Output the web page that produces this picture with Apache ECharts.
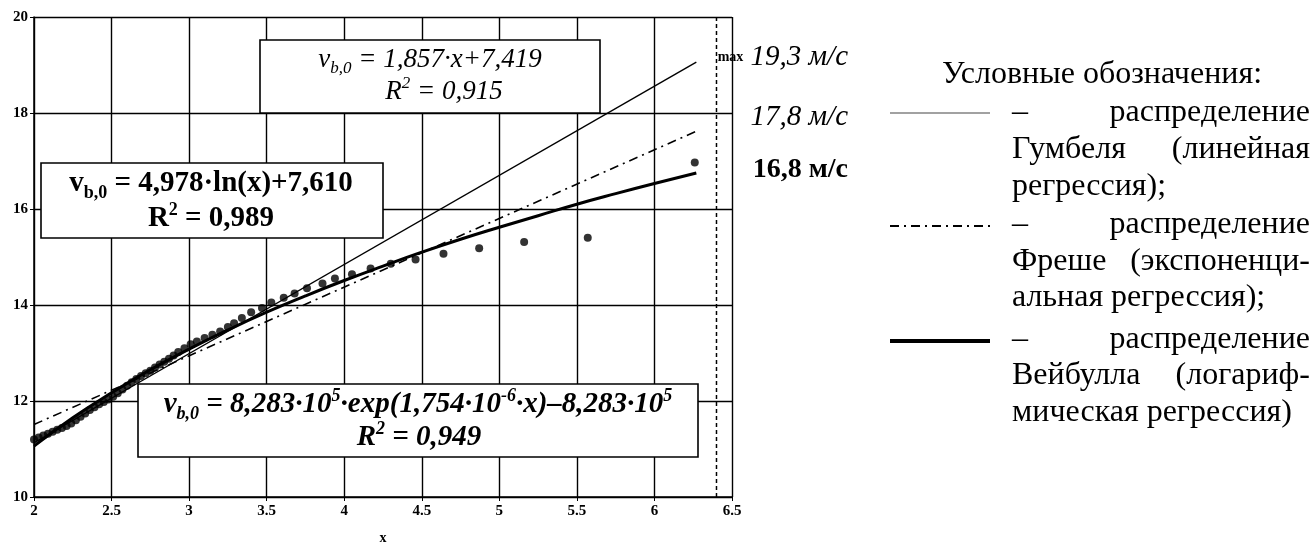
<!DOCTYPE html>
<html><head><meta charset="utf-8">
<script src="https://cdn.jsdelivr.net/npm/echarts@6/dist/echarts.min.js"></script>
<style>html,body{margin:0;padding:0;background:#fff}#c{width:1316px;height:543px}</style>
</head><body><div id="c"></div>
<script>
// ---- data ----
const xTicks = [2, 2.5, 3, 3.5, 4, 4.5, 5, 5.5, 6, 6.5];
const yTicks = [10, 12, 14, 16, 18, 20];
// observed points
const obsX = [2.00,2.03,2.06,2.09,2.12,2.15,2.18,2.21,2.24,2.27,2.30,2.33,2.36,2.39,2.42,2.45,2.48,2.51,2.54,2.57,2.60,2.63,2.66,2.69,2.72,2.75,2.78,2.81,2.84,2.87,2.90,2.93,2.97,3.01,3.05,3.10,3.15,3.20,3.25,3.29,3.34,3.40,3.47,3.53,3.61,3.68,3.76,3.86,3.94,4.05,4.17,4.30,4.46,4.64,4.87,5.16,5.57,6.26];
const obsY = [11.20,11.24,11.28,11.32,11.36,11.40,11.44,11.48,11.53,11.60,11.67,11.74,11.81,11.87,11.93,11.98,12.03,12.09,12.16,12.24,12.32,12.39,12.46,12.52,12.58,12.63,12.70,12.76,12.82,12.88,12.95,13.02,13.10,13.18,13.24,13.31,13.38,13.45,13.54,13.62,13.73,13.85,13.94,14.05,14.15,14.24,14.35,14.45,14.55,14.64,14.76,14.86,14.95,15.07,15.18,15.31,15.40,16.97];
// Gumbel (linear regression)
const gumbelX = [2, 6.27];
const gumbelY = [11.13, 19.06];
// Frechet (exponential regression)
const frechetX = [2, 6.27];
const frechetY = [11.51, 17.62];
// Weibull (logarithmic regression)
const weibullX = [2,2.25,2.5,2.75,3,3.25,3.5,3.75,4,4.25,4.5,4.75,5,5.25,5.5,5.75,6,6.27];
const weibullY = [11.06,11.65,12.17,12.65,13.08,13.48,13.85,14.19,14.51,14.81,15.10,15.37,15.62,15.86,16.10,16.32,16.53,16.75];
// max forecast line
const maxLineX = [6.4, 6.4];
const maxLineY = [10, 20];

const zip = (a, b) => a.map((v, i) => [v, b[i]]);
const SERIF = "'Liberation Serif','DejaVu Serif',serif";

function tok(size, weight, style, extra) {
  return Object.assign({fontFamily: SERIF, fontSize: size, fontWeight: weight, fontStyle: style,
    fill: '#000', color: '#000'}, extra || {});
}
function richSet(size, weight, style) {
  const lh = Math.round(size * 1.25);
  const small = Math.round(size * 0.62);
  return {
    n: tok(size, weight, style, {lineHeight: lh}),
    s: tok(small, weight, style, {lineHeight: small, verticalAlign: 'bottom'}),
    p: tok(small, weight, style, {lineHeight: small, verticalAlign: 'top'})
  };
}
function txt(x, y, text, rich, align, z) {
  return {type: 'text', x: x, y: y, z: z || 110,
    style: {text: text, rich: rich, align: align || 'center', verticalAlign: 'middle',
      textAlign: align || 'center', textVerticalAlign: 'middle', fill: '#000'}};
}
function box(x, y, w, h) {
  return {type: 'rect', z: 100, shape: {x: x, y: y, width: w, height: h},
    style: {fill: '#fff', stroke: '#000', lineWidth: 1.6}};
}
const LF = 32;
function plain(x, y, text, align) {
  return {type: 'text', x: x, y: y, z: 110,
    style: {text: text, font: 'normal normal ' + LF + 'px ' + SERIF,
      fill: '#000', align: align, verticalAlign: 'middle', textAlign: align, textVerticalAlign: 'middle'}};
}
function hline(x1, x2, y, w, dash, color) {
  return {type: 'line', z: 110, shape: {x1: x1, y1: y, x2: x2, y2: y},
    style: {stroke: color || '#000', lineWidth: w, lineDash: dash || null}};
}

const itR = richSet(27, 'normal', 'italic');
const bdR = richSet(29, 'bold', 'normal');
const biR = richSet(29, 'bold', 'italic');
const lblR = {
  m: tok(14, 'bold', 'normal'),
  i: tok(29, 'normal', 'italic'),
  b: tok(28, 'bold', 'normal')
};

const graphics = [
  box(260, 40, 340, 73),
  txt(430, 60, '{n|v}{s|b,0}{n| = 1,857·x+7,419}', itR),
  txt(444, 92, '{n|R}{p|2}{n| = 0,915}', itR),
  box(41, 163, 342, 75),
  txt(211, 184, '{n|v}{s|b,0}{n| = 4,978·ln(x)+7,610}', bdR),
  txt(211, 219, '{n|R}{p|2}{n| = 0,989}', bdR),
  box(138, 384, 560, 73),
  txt(418, 405, '{n|v}{s|b,0}{n| = 8,283·10}{p|5}{n|·exp(1,754·10}{p|-6}{n|·x)–8,283·10}{p|5}', biR),
  txt(419, 438, '{n|R}{p|2}{n| = 0,949}', biR),
  txt(848, 57, '{m|max}{i| 19,3 м/с}', lblR, 'right'),
  txt(848, 117, '{i|17,8 м/с}', lblR, 'right'),
  txt(848, 170, '{b|16,8 м/с}', lblR, 'right'),
  // legend
  plain(1102, 75, 'Условные обозначения:', 'center'),
  hline(890, 990, 113, 1.2, null, '#444'),
  hline(890, 990, 226, 2, [9, 5, 2, 5]),
  hline(890, 990, 341, 4),
  plain(1012, 113, '–', 'left'), plain(1310, 113, 'распределение', 'right'),
  plain(1012, 150, 'Гумбеля', 'left'), plain(1310, 150, '(линейная', 'right'),
  plain(1012, 187, 'регрессия);', 'left'),
  plain(1012, 225, '–', 'left'), plain(1310, 225, 'распределение', 'right'),
  plain(1012, 262, 'Фреше', 'left'), plain(1310, 262, '(экспоненци-', 'right'),
  plain(1012, 298, 'альная регрессия);', 'left'),
  plain(1012, 340, '–', 'left'), plain(1310, 340, 'распределение', 'right'),
  plain(1012, 376, 'Вейбулла', 'left'), plain(1310, 376, '(логариф-', 'right'),
  plain(1012, 413, 'мическая регрессия)', 'left')
];

const axisLabel = {color: '#000', fontFamily: SERIF, fontWeight: 'bold', fontSize: 15};
const chart = echarts.init(document.getElementById('c'), null, {renderer: 'canvas'});
chart.setOption({
  animation: false,
  backgroundColor: '#fff',
  grid: {left: 34, right: 584, top: 17, bottom: 46, containLabel: false, outerBoundsMode: 'none'},
  xAxis: {
    type: 'value', min: xTicks[0], max: xTicks[xTicks.length - 1], interval: 0.5,
    name: 'x', nameLocation: 'middle', nameGap: 34,
    nameTextStyle: {color: '#000', fontFamily: SERIF, fontWeight: 'bold', fontSize: 14},
    axisLine: {lineStyle: {color: '#000', width: 1.5}},
    axisTick: {show: true, length: 4, lineStyle: {color: '#000'}},
    axisLabel: Object.assign({margin: 7}, axisLabel),
    splitLine: {show: true, lineStyle: {color: '#000', width: 1.4}}
  },
  yAxis: {
    type: 'value', min: yTicks[0], max: yTicks[yTicks.length - 1], interval: 2,
    axisLine: {show: true, lineStyle: {color: '#000', width: 1.5}},
    axisTick: {show: true, length: 4, lineStyle: {color: '#000'}},
    axisLabel: Object.assign({margin: 6}, axisLabel),
    splitLine: {show: true, lineStyle: {color: '#000', width: 1.4}}
  },
  series: [
    {type: 'line', data: zip(maxLineX, maxLineY), symbol: 'none', z: 3,
      lineStyle: {color: '#000', width: 1.5, type: [4, 3]}},
    {type: 'line', data: zip(gumbelX, gumbelY), symbol: 'none', z: 4,
      lineStyle: {color: '#000', width: 1.4}},
    {type: 'line', data: zip(frechetX, frechetY), symbol: 'none', z: 4,
      lineStyle: {color: '#000', width: 1.6, type: [9, 5, 2, 5]}},
    {type: 'line', data: zip(weibullX, weibullY), symbol: 'none', smooth: true, z: 5,
      lineStyle: {color: '#000', width: 3}},
    {type: 'scatter', data: zip(obsX, obsY), symbol: 'circle', symbolSize: 8, z: 6,
      itemStyle: {color: '#000'}}
  ],
  graphic: graphics
});
</script>
</body></html>
